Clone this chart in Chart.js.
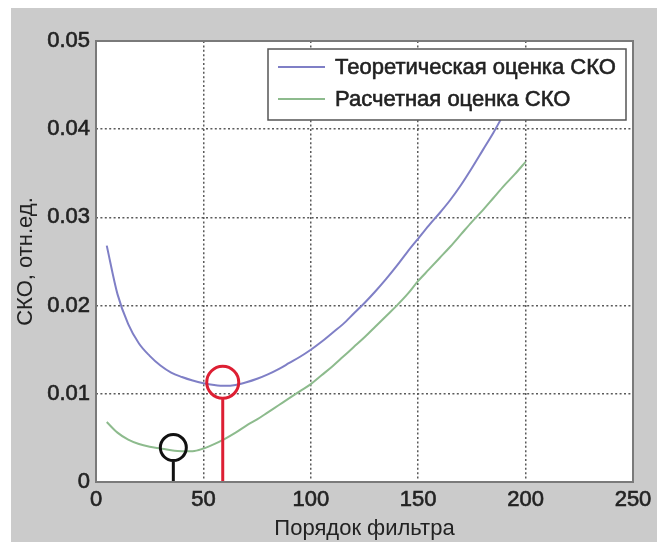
<!DOCTYPE html>
<html>
<head>
<meta charset="utf-8">
<script src="https://cdn.jsdelivr.net/npm/chart.js@4"></script>
<style>
  html, body { margin: 0; padding: 0; background: #ffffff; }
  #c { display: block; }
</style>
</head>
<body>
<canvas id="c" width="657" height="542"></canvas>
<script>
// ---- data ----
const filterOrder = [5,10,15,20,25,30,35,40,45,50,55,60,65,70,75,80,85,90,95,100,
                     105,110,115,120,125,130,135,140,145,150,155,160,165,170,175,180,185,190,195,200];
const theoreticalSKO = [0.0268,0.0213,0.0179,0.0157,0.0143,0.0132,0.0124,0.0119,0.0115,0.0112,
                        0.0110,0.0109,0.0110,0.0113,0.0117,0.0122,0.0128,0.0135,0.0142,0.0150,
                        0.0159,0.0169,0.0179,0.0191,0.0203,0.0216,0.0230,0.0245,0.0261,0.0276,
                        0.0291,0.0305,0.0320,0.0337,0.0356,0.0376,0.0396,0.0418,0.0440,0.0462];
const calculatedSKO = [0.0068,0.0056,0.0048,0.0043,0.0040,0.0038,0.0036,0.0035,0.0035,0.0038,
                       0.0043,0.0049,0.0056,0.0064,0.0071,0.0079,0.0087,0.0095,0.0103,0.0111,
                       0.0121,0.0131,0.0142,0.0153,0.0164,0.0176,0.0188,0.0200,0.0213,0.0228,
                       0.0241,0.0254,0.0267,0.0281,0.0295,0.0308,0.0322,0.0336,0.0349,0.0363];
const seriesLabels = ['Теоретическая оценка СКО', 'Расчетная оценка СКО'];
const markerX = [36, 59];          // black, red markers
const markerY = [0.0039, 0.0113];
const stemTop = [0.0023, 0.0094];
const xTickLabels = ['0','50','100','150','200','250'];
const yTickLabels = ['0','0.01','0.02','0.03','0.04','0.05'];
const xTitle = 'Порядок фильтра';
const yTitle = 'СКО, отн.ед.';

// ---- styles ----
const FONT = '"Liberation Sans", Arial, Helvetica, sans-serif';
const TEXT = '#222222';
const BLUE = '#7f7fc6';
const GREEN = '#8dbb8d';
const RED = '#dd1f33';
const BLACK = '#111111';

const pts = (xs, ys) => xs.map((x, i) => ({x: x, y: ys[i]}));

const bgPlugin = {
  id: 'figureBg',
  beforeDraw(chart) {
    const {ctx, chartArea: a, width, height} = chart;
    ctx.save();
    ctx.fillStyle = '#ffffff';
    ctx.fillRect(0, 0, width, height);
    ctx.fillStyle = '#cbcbcb';
    ctx.fillRect(11, 8, width - 11, height - 8);
    ctx.fillStyle = '#ffffff';
    ctx.fillRect(a.left, a.top, a.right - a.left, a.bottom - a.top);
    ctx.restore();
  },
  afterDatasetsDraw(chart) {
    const {ctx, chartArea: a} = chart;
    ctx.save();
    ctx.strokeStyle = '#7a7a7a';
    ctx.lineWidth = 2;
    ctx.strokeRect(a.left, a.top, a.right - a.left, a.bottom - a.top);
    // legend box (MATLAB style, inside the axes)
    const boxR = a.right - 7, boxT = a.top + 8, boxW = 358, boxH = 71;
    const boxL = boxR - boxW;
    ctx.fillStyle = '#ffffff';
    ctx.fillRect(boxL, boxT, boxW, boxH);
    ctx.strokeStyle = '#555555';
    ctx.lineWidth = 1.5;
    ctx.strokeRect(boxL, boxT, boxW, boxH);
    const rows = [boxT + 18, boxT + 50];
    ctx.font = '22px ' + FONT;
    ctx.textBaseline = 'middle';
    ctx.textAlign = 'left';
    for (let i = 0; i < 2; i++) {
      const ds = chart.data.datasets.find(d => d.label === seriesLabels[i]);
      ctx.strokeStyle = ds.borderColor;
      ctx.lineWidth = 2;
      ctx.beginPath();
      ctx.moveTo(boxL + 10, rows[i]);
      ctx.lineTo(boxL + 57, rows[i]);
      ctx.stroke();
      ctx.fillStyle = TEXT;
      ctx.strokeStyle = TEXT;
      ctx.lineWidth = 0.6;
      ctx.fillText(ds.label, boxL + 67, rows[i] + 1);
      ctx.strokeText(ds.label, boxL + 67, rows[i] + 1);
    }
    ctx.restore();
  }
};

new Chart(document.getElementById('c'), {
  type: 'scatter',
  data: {
    datasets: [
      { label: 'marker0', data: [{x: markerX[0], y: markerY[0]}], order: 0,
        pointRadius: 13, pointBorderWidth: 3, pointBorderColor: BLACK,
        pointBackgroundColor: 'rgba(0,0,0,0)', showLine: false },
      { label: 'marker1', data: [{x: markerX[1], y: markerY[1]}], order: 0,
        pointRadius: 16, pointBorderWidth: 3, pointBorderColor: RED,
        pointBackgroundColor: 'rgba(0,0,0,0)', showLine: false },
      { label: 'stem0', data: [{x: markerX[0], y: 0}, {x: markerX[0], y: stemTop[0]}], order: 1,
        showLine: true, borderColor: BLACK, borderWidth: 3, pointRadius: 0 },
      { label: 'stem1', data: [{x: markerX[1], y: 0}, {x: markerX[1], y: stemTop[1]}], order: 1,
        showLine: true, borderColor: RED, borderWidth: 3, pointRadius: 0 },
      { label: seriesLabels[0], data: pts(filterOrder, theoreticalSKO), order: 2,
        showLine: true, borderColor: BLUE, borderWidth: 2, pointRadius: 0,
        cubicInterpolationMode: 'monotone' },
      { label: seriesLabels[1], data: pts(filterOrder, calculatedSKO), order: 3,
        showLine: true, borderColor: GREEN, borderWidth: 2, pointRadius: 0,
        cubicInterpolationMode: 'monotone' }
    ]
  },
  options: {
    responsive: false,
    animation: false,
    events: [],
    layout: { padding: { left: 0, top: 41, right: 24, bottom: 0 } },
    plugins: { legend: { display: false }, tooltip: { enabled: false } },
    scales: {
      x: {
        type: 'linear', min: 0, max: 250,
        afterFit(s) { s.height = 60; },
        afterBuildTicks(s) { s.ticks = xTickLabels.map(t => ({value: Number(t)})); },
        ticks: { padding: 5, color: TEXT, font: { family: FONT, size: 22 },
                 textStrokeColor: TEXT, textStrokeWidth: 0.6,
                 maxRotation: 0, autoSkip: false,
                 callback: (v) => xTickLabels[xTickLabels.indexOf(String(v))] },
        grid: { color: '#5a5a5a', lineWidth: 1.5, drawTicks: false },
        border: { display: false, dash: [2, 2.4] },
        title: { display: true, text: xTitle, color: TEXT,
                 font: { family: FONT, size: 22 }, padding: { top: 0, bottom: 0 } }
      },
      y: {
        type: 'linear', min: 0, max: 0.05,
        afterFit(s) { s.width = 96; },
        afterBuildTicks(s) { s.ticks = yTickLabels.map(t => ({value: Number(t)})); },
        ticks: { padding: 6, color: TEXT, font: { family: FONT, size: 22 },
                 textStrokeColor: TEXT, textStrokeWidth: 0.6,
                 autoSkip: false,
                 callback: (v, i) => yTickLabels[i] },
        grid: { color: '#5a5a5a', lineWidth: 1.5, drawTicks: false },
        border: { display: false, dash: [2, 2.4] },
        title: { display: true, text: yTitle, color: TEXT,
                 font: { family: FONT, size: 22 }, padding: { top: 13, bottom: 0 } }
      }
    }
  },
  plugins: [bgPlugin]
});
</script>
</body>
</html>
